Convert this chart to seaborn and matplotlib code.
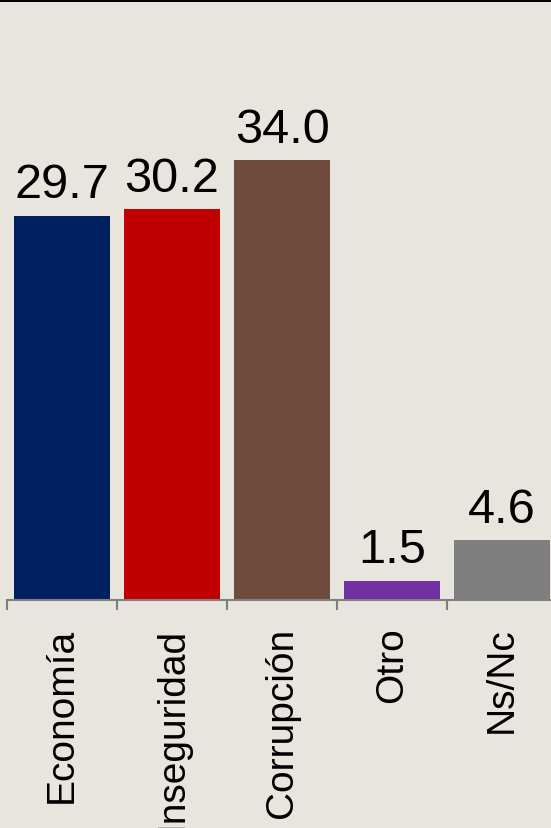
import numpy as np
import pandas as pd
import seaborn as sns
import matplotlib.pyplot as plt
from matplotlib.patches import Rectangle

categories = ["Economía", "Inseguridad", "Corrupción", "Otro", "Ns/Nc"]
values = [29.7, 30.2, 34.0, 1.5, 4.6]
colors = ["#002060", "#C00000", "#6F4B3E", "#7030A0", "#7F7F7F"]

bg = "#E8E4DE"
sns.set_style("white")
plt.rcParams['font.family'] = ['Liberation Sans', 'DejaVu Sans']

df = pd.DataFrame({"cat": categories, "val": values})

fig = plt.figure(figsize=(5.51, 8.29), dpi=100, facecolor=bg)
ax = fig.add_axes([7/551, 228/829, 544/551, 601/829])
ax.set_facecolor(bg)

sns.barplot(data=df, x="cat", y="val", hue="cat", palette=colors, order=categories,
            hue_order=categories, width=0.865, saturation=1, legend=False,
            linewidth=0, edgecolor="none", ax=ax)

for c in ax.containers:
    ax.bar_label(c, fmt="%.1f", fontsize=35, padding=6, color="black")

for s in ["top", "right", "left"]:
    ax.spines[s].set_visible(False)
ax.spines["bottom"].set_color("#7F7F7F")
ax.spines["bottom"].set_linewidth(1.5)
ax.set_yticks([])
ax.set_xlabel("")
ax.set_ylabel("")

ax.set_xticks(np.arange(len(categories)))
ax.set_xticklabels(categories, rotation=90, fontsize=28, va="top", ha="center", color="black")
ax.set_xticks(np.arange(len(categories) + 1) - 0.5, minor=True)
ax.tick_params(axis="x", which="major", bottom=True, length=0, pad=19)
ax.tick_params(axis="x", which="minor", bottom=True, length=7, width=1.5, color="#7F7F7F")

ax.set_xlim(-0.5, 544/110 - 0.5)
ax.set_ylim(0, 601/12.94)

fig.add_artist(Rectangle((0, 1 - 3/829), 1, 3/829, transform=fig.transFigure,
                         color="black", lw=0))

fig.savefig("out.png", dpi=100, facecolor=bg)
